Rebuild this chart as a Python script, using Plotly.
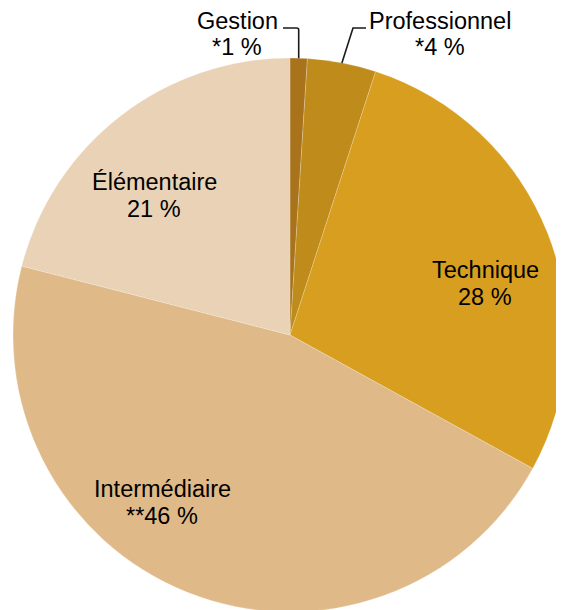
import math
import plotly.graph_objects as go

# ---- data ----
labels = ["Gestion", "Professionnel", "Technique", "Intermédiaire", "Élémentaire"]
values = [1, 4, 28, 46, 21]
value_marks = ["*", "*", "", "**", ""]
colors = ["#a8731b", "#bf8c1c", "#d79e1f", "#dfba88", "#e9d2b5"]

W, H = 564, 610
OFF = 8  # page body margin offset of the plot div

# pie placement in page pixels (layout)
CX, CY, R = 290, 335, 277
fcx, fcy = CX - OFF, CY - OFF
dom_x = [(fcx - R) / W, (fcx + R) / W]
dom_y = [1 - (fcy + R) / H, 1 - (fcy - R) / H]


def px(x):
    return (x - OFF) / W


def py(y):
    return 1 - (y - OFF) / H


fig = go.Figure(
    go.Pie(
        labels=labels,
        values=values,
        sort=False,
        direction="clockwise",
        rotation=0,
        marker=dict(colors=colors, line=dict(color="rgba(255,255,255,0.4)", width=0.5)),
        textinfo="none",
        hoverinfo="label+percent",
        domain=dict(x=dom_x, y=dom_y),
        showlegend=False,
    )
)

# label positions (page-pixel centres of the two text lines)
label_pos = {
    "Gestion": (237, 21, 47),
    "Professionnel": (440, 21, 47),
    "Technique": (485, 270, 297),
    "Intermédiaire": (162, 489, 516),
    "Élémentaire": (154, 182, 209),
}

total = sum(values)
annotations = []
for lab, val, mark in zip(labels, values, value_marks):
    x, y1, y2 = label_pos[lab]
    font = dict(family="Liberation Sans, Arial, sans-serif", size=23.5, color="#000000")
    annotations.append(dict(x=px(x), y=py(y1), xref="paper", yref="paper", text=lab,
                            showarrow=False, xanchor="center", yanchor="middle", font=font))
    annotations.append(dict(x=px(x), y=py(y2), xref="paper", yref="paper",
                            text=f"{mark}{val} %", showarrow=False,
                            xanchor="center", yanchor="middle", font=font))

# leader lines for the two small slices, anchored on slice mid-angles
cum = 0
mids = []
for v in values:
    mids.append((cum + v / 2) / total * 2 * math.pi)
    cum += v

shapes = []
line_style = dict(color="#1a1a1a", width=1.6)
# Gestion
a = mids[0]
sx, sy = CX + R * math.sin(a), CY - R * math.cos(a)
path = (f"M {px(sx)},{py(sy)} L {px(sx)},{py(30)} "
        f"Q {px(sx)},{py(28)} {px(sx - 2)},{py(28)} L {px(283)},{py(28)}")
shapes.append(dict(type="path", xref="paper", yref="paper", path=path, line=line_style))
# Professionnel
a = mids[1]
sx, sy = CX + R * math.sin(a), CY - R * math.cos(a)
path = f"M {px(sx)},{py(sy)} L {px(353)},{py(28)} L {px(366)},{py(28)}"
shapes.append(dict(type="path", xref="paper", yref="paper", path=path, line=line_style))

fig.update_layout(
    width=W,
    height=H,
    margin=dict(l=0, r=0, t=0, b=0),
    paper_bgcolor="white",
    plot_bgcolor="white",
    annotations=annotations,
    shapes=shapes,
)

fig.write_html("out.html")
